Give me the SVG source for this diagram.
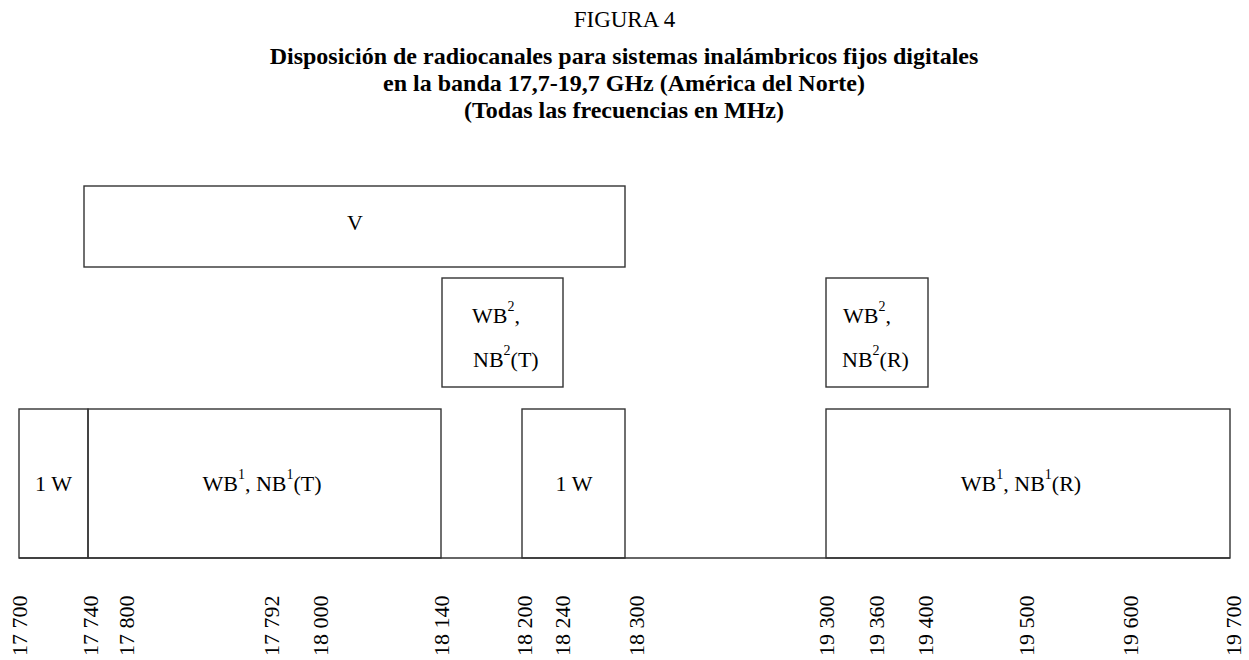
<svg xmlns="http://www.w3.org/2000/svg" width="1249" height="660" viewBox="0 0 1249 660">
<style>
text{font-family:"Liberation Serif","Times New Roman",serif;fill:#000}
.t{font-size:23px;text-anchor:middle}
.h{font-size:24px;font-weight:bold;text-anchor:middle}
.b{fill:none;stroke:#333;stroke-width:1.4}
.l{font-size:22px}
.c{text-anchor:middle}
.s{font-size:14px}
.k{font-size:22px}
</style>
<rect width="1249" height="660" fill="#fff"/>
<g id="title">
<text class="t" x="624.5" y="27">FIGURA 4</text>
<text class="h" x="624" y="64">Disposición de radiocanales para sistemas inalámbricos fijos digitales</text>
<text class="h" x="624" y="91">en la banda 17,7-19,7 GHz (América del Norte)</text>
<text class="h" x="624" y="118">(Todas las frecuencias en MHz)</text>
</g>
<g id="connectors">
<line class="b" x1="19" y1="558" x2="1230" y2="558"/>
</g>
<g id="node-V">
<rect class="b" x="84" y="186" width="541" height="81"/>
<text class="l c" x="355" y="230">V</text>
</g>
<g id="node-1W-a">
<rect class="b" x="19" y="409" width="69" height="149"/>
<text class="l c" x="53.5" y="491">1 W</text>
</g>
<g id="node-WB1-T">
<rect class="b" x="88" y="409" width="353" height="149"/>
<text class="l c" x="262" y="491">WB<tspan class="s" dy="-12">1</tspan><tspan dy="12">, NB</tspan><tspan class="s" dy="-12">1</tspan><tspan dy="12">(T)</tspan></text>
</g>
<g id="node-WB2-T">
<rect class="b" x="442" y="278" width="121" height="109"/>
<text class="l" x="472" y="323">WB<tspan class="s" dy="-12">2</tspan><tspan dy="12">,</tspan></text>
<text class="l" x="473" y="367">NB<tspan class="s" dy="-12">2</tspan><tspan dy="12">(T)</tspan></text>
</g>
<g id="node-1W-b">
<rect class="b" x="522" y="409" width="103" height="149"/>
<text class="l c" x="574" y="491">1 W</text>
</g>
<g id="node-WB2-R">
<rect class="b" x="826" y="278" width="102" height="109"/>
<text class="l" x="843" y="323">WB<tspan class="s" dy="-12">2</tspan><tspan dy="12">,</tspan></text>
<text class="l" x="842" y="367">NB<tspan class="s" dy="-12">2</tspan><tspan dy="12">(R)</tspan></text>
</g>
<g id="node-WB1-R">
<rect class="b" x="826" y="409" width="404" height="149"/>
<text class="l c" x="1021" y="491">WB<tspan class="s" dy="-12">1</tspan><tspan dy="12">, NB</tspan><tspan class="s" dy="-12">1</tspan><tspan dy="12">(R)</tspan></text>
</g>
<g id="axis-labels">
<text class="k" transform="translate(27,656) rotate(-90)">17 700</text>
<text class="k" transform="translate(98,656) rotate(-90)">17 740</text>
<text class="k" transform="translate(134,656) rotate(-90)">17 800</text>
<text class="k" transform="translate(279,656) rotate(-90)">17 792</text>
<text class="k" transform="translate(328,656) rotate(-90)">18 000</text>
<text class="k" transform="translate(449,656) rotate(-90)">18 140</text>
<text class="k" transform="translate(532,656) rotate(-90)">18 200</text>
<text class="k" transform="translate(570,656) rotate(-90)">18 240</text>
<text class="k" transform="translate(644,656) rotate(-90)">18 300</text>
<text class="k" transform="translate(834,656) rotate(-90)">19 300</text>
<text class="k" transform="translate(884,656) rotate(-90)">19 360</text>
<text class="k" transform="translate(933,656) rotate(-90)">19 400</text>
<text class="k" transform="translate(1034,656) rotate(-90)">19 500</text>
<text class="k" transform="translate(1138,656) rotate(-90)">19 600</text>
<text class="k" transform="translate(1241,656) rotate(-90)">19 700</text>
</g>
</svg>
